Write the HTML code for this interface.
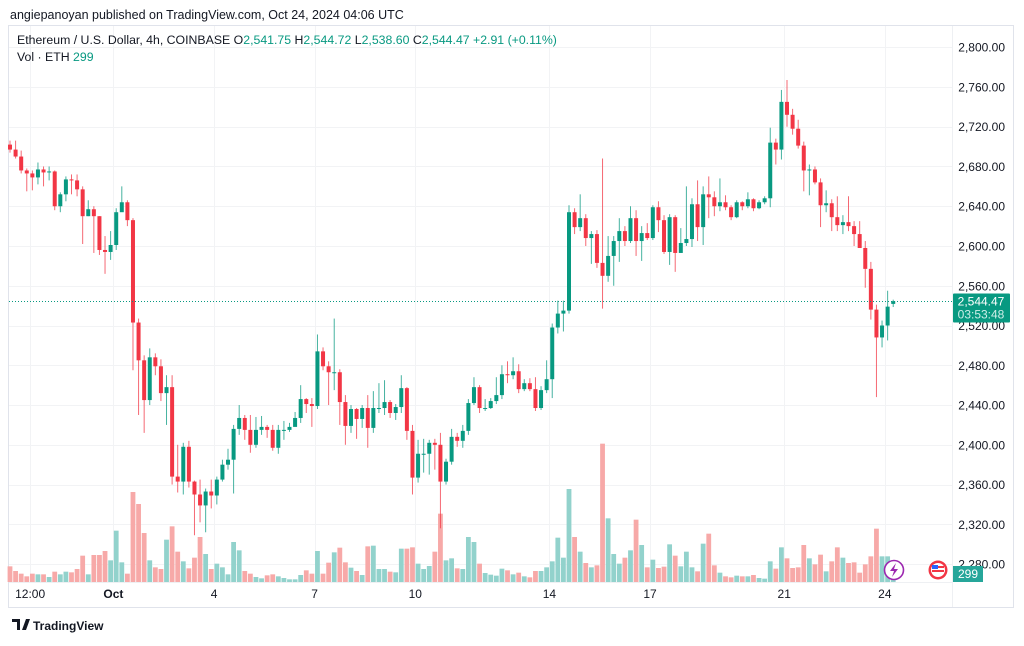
<!DOCTYPE html>
<html><head><meta charset="utf-8">
<style>
body{margin:0;background:#fff;font-family:"Liberation Sans",sans-serif;}
svg text{font-family:"Liberation Sans",sans-serif;}
</style></head>
<body>
<svg id="c" width="1024" height="641" viewBox="0 0 1024 641" xmlns="http://www.w3.org/2000/svg">
<rect x="0" y="0" width="1024" height="641" fill="#fff"/>
<text x="10" y="19" font-size="12.5" fill="#131722">angiepanoyan published on TradingView.com, Oct 24, 2024 04:06 UTC</text>
<rect x="8.5" y="25.5" width="1005" height="582" fill="none" stroke="#e0e3eb"/>
<g id="grid"></g>
<line x1="952.5" y1="26" x2="952.5" y2="607" stroke="#eef0f3"/>
<line x1="9" y1="582.5" x2="952" y2="582.5" stroke="#eef0f3"/>
<g id="vol"></g>
<g id="candles"></g>
<g id="yaxis"></g>
<g id="xaxis"></g>
<text x="17" y="44" font-size="12.3" fill="#131722">Ethereum / U.S. Dollar, 4h, COINBASE <tspan>O</tspan><tspan fill="#089981">2,541.75</tspan> <tspan>H</tspan><tspan fill="#089981">2,544.72</tspan> <tspan>L</tspan><tspan fill="#089981">2,538.60</tspan> <tspan>C</tspan><tspan fill="#089981">2,544.47 +2.91 (+0.11%)</tspan></text>
<text x="17" y="61" font-size="12.3" fill="#131722">Vol · ETH <tspan fill="#089981">299</tspan></text>
<g><circle cx="894" cy="570" r="9.5" fill="#fff" stroke="#9c27b0" stroke-width="1.6"/><path d="M896 563 L890 571 L894 571 L892 577 L898 569 L894 569 Z" fill="#9c27b0"/></g>
<g><circle cx="938" cy="570" r="9.5" fill="#f23645"/><circle cx="938" cy="570" r="7" fill="#fff"/><rect x="932" y="566" width="12" height="2" fill="#f23645"/><rect x="932" y="570" width="12" height="2" fill="#f23645"/><rect x="932" y="565" width="6" height="4" fill="#2962ff"/></g>
<g><rect x="953" y="566" width="30" height="16" fill="#26a69a"/><text x="968" y="578" font-size="12" fill="#fff" text-anchor="middle">299</text></g>
<g><path d="M12 619 h8 v11 h-3 v-8 h-5z M22 630 l4 -11 h4 l-4 11z" fill="#131722"/><text x="33" y="630" font-size="12" font-weight="bold" fill="#131722">TradingView</text></g>
</svg>
<script>
const closes=[2697,2690,2676,2673,2669,2677,2674,2675,2640,2652,2667,2666,2657,2630,2637,2630,2596,2594,2601,2634,2644,2626,2523,2485,2445,2488,2479,2452,2458,2368,2363,2398,2363,2350,2339,2353,2349,2365,2380,2385,2416,2427,2415,2400,2415,2418,2415,2397,2415,2415,2418,2427,2446,2441,2439,2494,2479,2473,2473,2443,2419,2436,2426,2437,2417,2437,2437,2443,2432,2438,2457,2414,2367,2391,2391,2402,2400,2363,2383,2408,2404,2414,2442,2458,2437,2437,2444,2450,2471,2470,2474,2456,2462,2456,2437,2455,2466,2518,2532,2535,2634,2619,2628,2608,2612,2583,2570,2590,2605,2615,2605,2628,2605,2613,2608,2639,2626,2594,2629,2593,2603,2607,2642,2619,2652,2649,2640,2644,2639,2629,2644,2640,2647,2638,2644,2648,2704,2697,2745,2732,2718,2701,2676,2677,2664,2641,2643,2629,2621,2624,2620,2612,2598,2577,2536,2508,2520,2539,2544.47];
const opens=[2702,2697,2690,2676,2673,2669,2677,2674,2675,2640,2652,2667,2666,2657,2630,2637,2630,2596,2594,2601,2634,2644,2626,2523,2485,2445,2488,2479,2452,2458,2368,2363,2398,2363,2350,2339,2353,2349,2365,2380,2385,2416,2427,2415,2400,2415,2418,2415,2397,2415,2415,2418,2427,2446,2441,2439,2494,2479,2473,2473,2443,2419,2436,2426,2437,2417,2437,2437,2443,2432,2438,2457,2414,2367,2391,2391,2402,2400,2363,2383,2408,2404,2414,2442,2458,2437,2437,2444,2450,2471,2470,2474,2456,2462,2456,2437,2455,2466,2518,2532,2535,2634,2619,2628,2608,2612,2583,2570,2590,2605,2615,2605,2628,2605,2613,2608,2639,2626,2594,2629,2593,2603,2607,2642,2619,2652,2649,2640,2644,2639,2629,2644,2640,2647,2638,2644,2648,2704,2697,2745,2732,2718,2701,2676,2677,2664,2641,2643,2629,2621,2624,2620,2612,2598,2577,2536,2508,2520,2541.75];
const highs=[2706,2706,2696,2678,2676,2684,2680,2680,2676,2654,2670,2672,2672,2660,2646,2640,2630,2610,2615,2638,2660,2646,2628,2527,2490,2497,2492,2486,2470,2470,2400,2402,2404,2364,2365,2356,2365,2368,2385,2396,2420,2440,2430,2430,2428,2429,2420,2420,2420,2424,2422,2433,2460,2447,2447,2511,2498,2484,2527,2476,2450,2440,2437,2440,2450,2454,2462,2465,2445,2441,2470,2458,2420,2405,2406,2405,2406,2412,2386,2416,2412,2420,2446,2468,2460,2446,2447,2468,2480,2484,2488,2481,2466,2467,2468,2459,2485,2522,2545,2545,2641,2638,2652,2632,2615,2616,2688,2610,2610,2628,2620,2640,2636,2620,2623,2641,2645,2631,2632,2631,2618,2660,2648,2666,2660,2670,2655,2668,2651,2641,2646,2645,2654,2648,2646,2650,2719,2708,2757,2767,2738,2727,2705,2682,2680,2668,2656,2647,2650,2631,2650,2625,2625,2605,2584,2541,2525,2555,2546];
const lows=[2694,2688,2673,2655,2656,2662,2660,2666,2636,2634,2645,2652,2650,2602,2630,2593,2591,2572,2586,2596,2641,2620,2475,2430,2412,2440,2470,2444,2420,2360,2352,2350,2357,2309,2322,2312,2336,2340,2363,2375,2351,2410,2405,2392,2397,2410,2407,2394,2391,2405,2413,2420,2422,2432,2418,2436,2475,2440,2455,2420,2400,2412,2406,2417,2397,2412,2432,2430,2427,2425,2432,2405,2350,2362,2372,2370,2375,2316,2360,2380,2398,2397,2410,2440,2432,2434,2436,2441,2446,2462,2466,2452,2454,2454,2434,2435,2452,2447,2512,2514,2532,2612,2615,2600,2582,2578,2537,2564,2560,2584,2600,2603,2590,2585,2606,2606,2614,2592,2581,2574,2595,2600,2599,2605,2601,2628,2630,2635,2636,2626,2628,2636,2638,2635,2637,2642,2639,2682,2687,2720,2712,2698,2655,2651,2662,2619,2634,2615,2615,2612,2615,2600,2598,2558,2526,2448,2498,2505,2538.6];
const volumes=[47,33,25,17,25,23,23,15,31,23,31,29,39,79,23,81,81,93,65,154,59,25,270,234,147,65,44,39,127,167,91,62,41,73,135,84,39,55,44,23,120,95,33,25,15,11,20,23,17,12,8,8,21,35,25,93,25,58,89,103,59,43,33,21,107,109,39,39,31,29,100,100,104,55,39,48,91,205,65,71,41,39,135,120,55,27,22,19,40,35,23,28,17,14,33,33,44,62,133,73,279,135,91,57,44,50,415,191,84,55,73,95,187,111,44,67,42,46,113,79,47,91,44,32,115,145,50,28,17,14,19,17,17,21,12,10,62,40,104,71,42,44,111,71,53,82,32,62,104,73,57,59,28,53,77,160,77,77,8];
const priceTicks=[2800,2760,2720,2680,2640,2600,2560,2520,2480,2440,2400,2360,2320,2280];
const timeLabels=["12:00","Oct","4","7","10","14","17","21","24"];
const timeLabelIdx=[3.6,18.5,36.5,54.5,72.5,96.5,114.5,138.5,156.5];
const lastPrice=2544.47;

const NS="http://www.w3.org/2000/svg";
const X0=10, DX=5.59;
function xS(i){return X0+i*DX;}
function yS(p){return 47.2+(2800-p)*0.994;}
function vS(v){return 582-v/3;}
function mk(tag,attrs,parent){const e=document.createElementNS(NS,tag);for(const k in attrs)e.setAttribute(k,attrs[k]);parent.appendChild(e);return e;}
const G=id=>document.getElementById(id);
const GREEN="#089981",RED="#f23645";

priceTicks.forEach(p=>{
  const y=Math.round(yS(p))+0.5;
  const ln=mk('line',{x1:9,x2:952,y1:y,y2:y,stroke:'#f2f3f5'},G('grid'));
  
  
  const t=mk('text',{x:1005,y:yS(p)+4.5,'font-size':12,fill:'#131722','text-anchor':'end'},G('yaxis'));
  t.textContent=p.toLocaleString('en-US',{minimumFractionDigits:2});
  
  
});
timeLabels.forEach((s,k)=>{
  const x=xS(timeLabelIdx[k]);
  const ln=mk('line',{x1:Math.round(x)+0.5,x2:Math.round(x)+0.5,y1:26,y2:582,stroke:'#f2f3f5'},G('grid'));
  
  
  const t=mk('text',{x:x,y:598,'font-size':12,fill:'#131722','text-anchor':'middle','font-weight':s==='Oct'?'bold':'normal'},G('xaxis'));
  t.textContent=s;
  
  
});
volumes.forEach((v,i)=>{
  const up=closes[i]>=opens[i];
  const r=mk('rect',{x:xS(i)-2.4,y:vS(v),width:4.8,height:582-vS(v),fill:up?'#92d2cc':'#f7a9a8'},G('vol'));
  
  
});
closes.forEach((c,i)=>{
  const o=opens[i],up=c>=o,col=up?GREEN:RED,x=xS(i);
  const g=mk('g',{},G('candles'));
  
  
  mk('line',{x1:x,x2:x,y1:yS(highs[i]),y2:yS(lows[i]),stroke:col,'stroke-width':1,opacity:0.75},g);
  const top=yS(Math.max(o,c)),bot=yS(Math.min(o,c));
  mk('rect',{x:x-2,y:top,width:4,height:Math.max(1,bot-top),fill:col},g);
});
const ly=Math.round(yS(lastPrice))+0.5;
const pl=mk('line',{x1:9,x2:952,y1:ly,y2:ly,stroke:GREEN,'stroke-width':1,'stroke-dasharray':'1 2'},G('candles'));


const tag=mk('g',{},G('yaxis'));


mk('rect',{x:953,y:ly-8,width:57,height:29,fill:GREEN,rx:1},tag);
const t1=mk('text',{x:981,y:ly+4,'font-size':12,fill:'#fff','text-anchor':'middle'},tag);t1.textContent='2,544.47';
const t2=mk('text',{x:981,y:ly+17,'font-size':12,fill:'#cdeee8','text-anchor':'middle'},tag);t2.textContent='03:53:48';
</script>
</body></html>
